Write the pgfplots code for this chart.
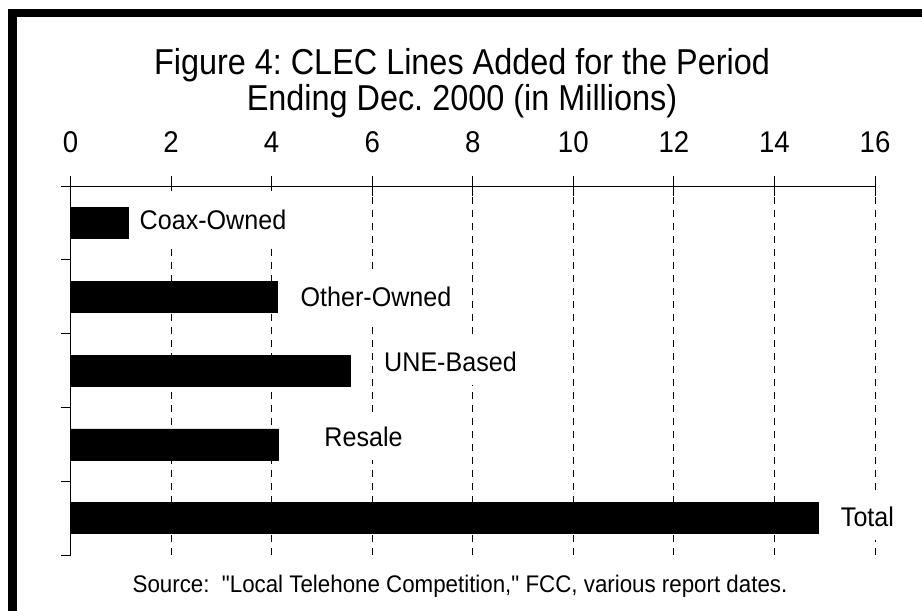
\documentclass[border=0pt]{standalone}
\usepackage{pgfplots}
\pgfplotsset{compat=1.18}
\usepackage{fontspec}
\setmainfont{Liberation Sans}[Ligatures=TeXOff]
\frenchspacing
\begin{document}
\begin{tikzpicture}[x=1pt,y=1pt]
\clip (0,0) rectangle (922,611);
\fill[white] (0,0) rectangle (922,611);
\draw[line width=8.5pt] (12.5,-10) -- (12.5,598) -- (940,598);
\node[font=\fontsize{36}{42}\selectfont, anchor=base] at (462,536) {\scalebox{0.9}[1]{Figure 4: CLEC Lines Added for the Period}};
\node[font=\fontsize{36}{42}\selectfont, anchor=base] at (462,500) {\scalebox{0.9}[1]{Ending Dec. 2000 (in Millions)}};
\node[font=\fontsize{24}{28}\selectfont, anchor=base] at (460,18) {\scalebox{0.93}[1]{Source:\ \ "Local Telehone Competition," FCC, various report dates.}};
\begin{axis}[
  at={(70.5pt,56pt)}, anchor=south west,
  scale only axis, width=804.5pt, height=369pt,
  xmin=0, xmax=16, ymin=0.5, ymax=5.5,
  axis x line*=top, axis y line*=left,
  axis line style={line width=0.8pt, black},
  xtick={0,2,...,16}, ytick=\empty,
  tick align=center, major tick length=20pt,
  tick style={line width=0.8pt, black},
  xmajorgrids,
  grid style={black, line width=0.8pt, dash pattern=on 7pt off 6pt},
  /pgf/number format/assume math mode=true,
  xticklabel style={font=\fontsize{30}{35}\selectfont, yshift=20pt},
  xticklabel={\scalebox{0.92}[1]{\pgfmathprintnumber{\tick}}},
  clip=false,
]
\addplot[xbar, fill=black, draw=black, bar width=31pt] coordinates {
  (1.14,5) (4.12,4) (5.56,3) (4.13,2) (14.88,1)};
\draw[line width=0.8pt] (axis cs:0,0.5) -- ([xshift=-10pt]axis cs:0,0.5);
\draw[line width=0.8pt] (axis cs:0,1.5) -- ([xshift=-10pt]axis cs:0,1.5);
\draw[line width=0.8pt] (axis cs:0,2.5) -- ([xshift=-10pt]axis cs:0,2.5);
\draw[line width=0.8pt] (axis cs:0,3.5) -- ([xshift=-10pt]axis cs:0,3.5);
\draw[line width=0.8pt] (axis cs:0,4.5) -- ([xshift=-10pt]axis cs:0,4.5);
\draw[line width=0.8pt] (axis cs:0,5.5) -- ([xshift=-10pt]axis cs:0,5.5);
\tikzset{lab/.style={fill=white, inner xsep=4pt, inner ysep=13pt, font=\fontsize{27}{32}\selectfont, anchor=center}}
\node[lab, inner ysep=19pt] at (axis cs:2.834,5.04) {\scalebox{0.93}[1]{Coax-Owned}};
\node[lab, inner ysep=15pt] at (axis cs:6.076,4.0) {\scalebox{0.93}[1]{Other-Owned}};
\node[lab] at (axis cs:7.558,3.115) {\scalebox{0.93}[1]{UNE-Based}};
\node[lab] at (axis cs:5.827,2.10) {\scalebox{0.93}[1]{Resale}};
\node[lab] at (axis cs:15.85,1.015) {\scalebox{0.93}[1]{Total}};
\end{axis}
\end{tikzpicture}
\end{document}
